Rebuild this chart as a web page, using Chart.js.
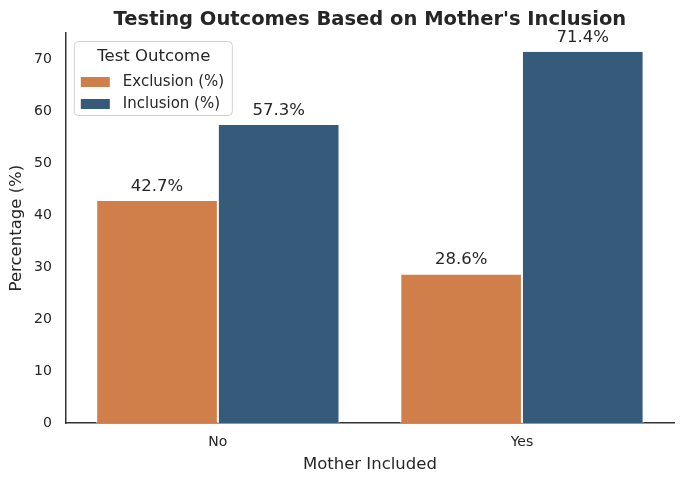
<!DOCTYPE html>
<html>
<head>
<meta charset="utf-8">
<script src="https://cdn.jsdelivr.net/npm/chart.js@4.4.0/dist/chart.umd.min.js"></script>
<style>
  html, body { margin: 0; padding: 0; background: #fff; }
  #wrap { width: 684px; height: 484px; }
</style>
</head>
<body>
<div id="wrap"><canvas id="chart" width="684" height="484"></canvas></div>
<script>
// données
const categories = ['No', 'Yes'];
const exclusionPct = [42.7, 28.6];
const inclusionPct = [57.3, 71.4];
const seriesNames = ['Exclusion (%)', 'Inclusion (%)'];
const yTicks = [0, 10, 20, 30, 40, 50, 60, 70];

const FONT = "'DejaVu Sans', sans-serif";
const INK = '#262626';
const TITLE = "Testing Outcomes Based on Mother's Inclusion";
const X_TITLE = 'Mother Included';
const Y_TITLE = 'Percentage (%)';

// étiquettes au-dessus des barres
const barLabels = {
    id: 'barLabels',
    afterDatasetsDraw(chart) {
        const ctx = chart.ctx;
        ctx.save();
        ctx.font = '16.5px ' + FONT;
        ctx.fillStyle = INK;
        ctx.textAlign = 'center';
        ctx.textBaseline = 'bottom';
        chart.data.datasets.forEach((ds, i) => {
            chart.getDatasetMeta(i).data.forEach((bar, j) => {
                ctx.fillText(ds.data[j].toFixed(1) + '%', bar.x, bar.y - 6);
            });
        });
        ctx.restore();
    }
};

// titres centrés sur la zone du graphe (comme matplotlib)
const areaTitles = {
    id: 'areaTitles',
    afterDraw(chart) {
        const ctx = chart.ctx;
        const area = chart.chartArea;
        const cx = (area.left + area.right) / 2;
        ctx.save();
        ctx.fillStyle = INK;
        ctx.textAlign = 'center';
        ctx.textBaseline = 'middle';
        ctx.font = 'bold 19.5px ' + FONT;
        ctx.fillText(TITLE, cx, area.top - 13);
        ctx.font = '16.5px ' + FONT;
        ctx.fillText(X_TITLE, cx, area.bottom + 42);
        ctx.translate(17, (area.top + area.bottom) / 2);
        ctx.rotate(-Math.PI / 2);
        ctx.fillText(Y_TITLE, 0, 0);
        ctx.restore();
    }
};

// légende dans le cadre, façon seaborn
const boxLegend = {
    id: 'boxLegend',
    afterDraw(chart) {
        const ctx = chart.ctx;
        const area = chart.chartArea;
        const x = area.left + 8, y = area.top + 8;
        const w = 158, h = 74;
        ctx.save();
        ctx.fillStyle = 'rgba(255,255,255,0.8)';
        ctx.strokeStyle = '#d0d0d0';
        ctx.lineWidth = 1;
        ctx.beginPath();
        ctx.roundRect(x + 0.5, y + 0.5, w, h, 4);
        ctx.fill();
        ctx.stroke();
        ctx.fillStyle = INK;
        ctx.textBaseline = 'middle';
        ctx.font = '16.5px ' + FONT;
        ctx.textAlign = 'center';
        ctx.fillText('Test Outcome', x + w / 2 + 1, y + 16);
        ctx.textAlign = 'left';
        ctx.font = '15px ' + FONT;
        chart.data.datasets.forEach((ds, i) => {
            const cy = y + 41 + i * 22;
            ctx.fillStyle = ds.backgroundColor;
            ctx.fillRect(x + 7, cy - 5, 29, 10);
            ctx.fillStyle = INK;
            ctx.fillText(ds.label, x + 49, cy);
        });
        ctx.restore();
    }
};

new Chart(document.getElementById('chart'), {
    type: 'bar',
    data: {
        labels: categories,
        datasets: [
            { label: seriesNames[0], data: exclusionPct, backgroundColor: '#d07f4a', borderColor: '#ffffff', borderWidth: { left: 1, right: 1 }, borderSkipped: 'bottom' },
            { label: seriesNames[1], data: inclusionPct, backgroundColor: '#365a7a', borderColor: '#ffffff', borderWidth: { left: 1, right: 1 }, borderSkipped: 'bottom' }
        ]
    },
    options: {
        responsive: false,
        animation: false,
        devicePixelRatio: 1,
        layout: { padding: { left: 20, right: 10, top: 33, bottom: 22 } },
        datasets: { bar: { categoryPercentage: 0.8, barPercentage: 1.0 } },
        plugins: {
            legend: { display: false },
            tooltip: { enabled: false },
            title: { display: false }
        },
        scales: {
            x: {
                grid: { display: false, drawTicks: false },
                border: { display: true, color: '#333333', width: 1.5 },
                ticks: { color: INK, font: { family: FONT, size: 14 }, padding: 11 },
                title: { display: false }
            },
            y: {
                min: 0,
                max: 75,
                afterBuildTicks(axis) { axis.ticks = yTicks.map(v => ({ value: v })); },
                grid: { display: false, drawTicks: false },
                border: { display: true, color: '#333333', width: 1.5 },
                ticks: { color: INK, font: { family: FONT, size: 14 }, padding: 14 },
                title: { display: false }
            }
        }
    },
    plugins: [barLabels, areaTitles, boxLegend]
});
</script>
</body>
</html>
